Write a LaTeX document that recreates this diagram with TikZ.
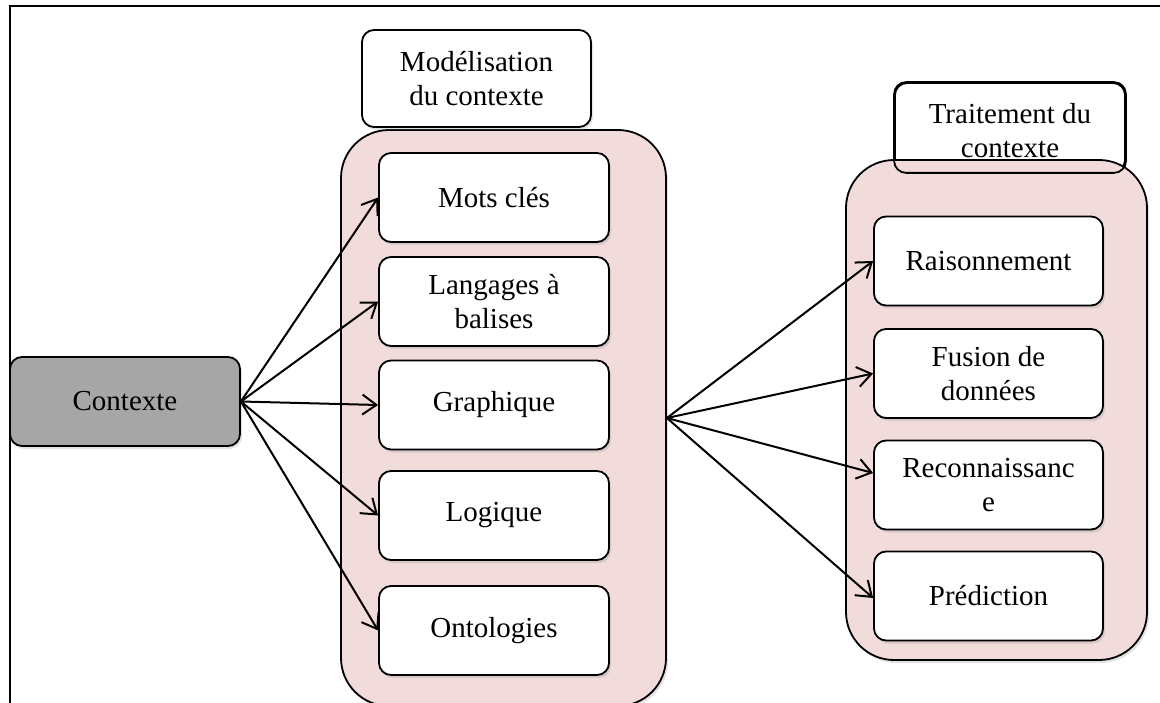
\documentclass[tikz,border=0pt]{standalone}
\usepackage{fontspec}
\setmainfont{Liberation Serif}
\usetikzlibrary{arrows.meta,shadows}
\definecolor{rosepale}{HTML}{F2DCDB}
\definecolor{grisctx}{HTML}{A6A6A6}
\begin{document}
\begin{tikzpicture}
  [x=1pt,y=-1pt,line width=1.8pt,
   every node/.style={font=\fontsize{29}{34}\selectfont,align=center,inner sep=0pt},
   ombre/.style={drop shadow={opacity=0.22,shadow xshift=2pt,shadow yshift=-3pt}},
   boite/.style={draw,fill=white,rounded corners=12pt,minimum width=230pt,minimum height=89pt,ombre},
   groupe/.style={draw,fill=rosepale,rounded corners=48pt,ombre},
   fleche/.style={-{Straight Barb[length=14pt,width=20pt,line width=2pt]},line width=2pt}]
  \useasboundingbox (0,0) rectangle (1160,703);
  \draw[line width=1.6pt] (10,704) -- (10,6) -- (1160,6);

  % groupes
  \node[groupe,minimum width=325pt,minimum height=576pt] (mod) at (503.5,418) {};
  \node[boite,minimum height=97pt,minimum width=229pt,align=none] (tmod) at (476.5,78.5)
    {\raisebox{-9pt}[0pt][0pt]{\begin{tabular}{@{}c@{}}Mod\'elisation\\du contexte\end{tabular}}};
  \node[boite,align=none] (ttrt) at (1010,127.5)
    {\raisebox{-12pt}[0pt][0pt]{\begin{tabular}{@{}c@{}}Traitement du\\contexte\end{tabular}}};
  \node[groupe,minimum width=301pt,minimum height=500pt] (trt) at (996.5,410) {};
  \draw[rounded corners=12pt] (ttrt.south west) rectangle (ttrt.north east);

  % modelisation
  \node[boite] (mots) at (494,197.5) {Mots cl\'es};
  \node[boite] (lang) at (494,301.5) {Langages \`a\\balises};
  \node[boite] (graph) at (494,405) {Graphique};
  \node[boite] (logi) at (494,515.5) {Logique};
  \node[boite] (onto) at (494,630.5) {Ontologies};

  % traitement
  \node[boite,minimum width=229pt] (rais) at (988.5,261) {Raisonnement};
  \node[boite,minimum width=229pt] (fus) at (988.5,373.5) {Fusion de\\donn\'ees};
  \node[boite,minimum width=229pt] (reco) at (988.5,485) {Reconnaissanc\\e};
  \node[boite,minimum width=229pt] (pred) at (988.5,596) {Pr\'ediction};

  \node[boite,fill=grisctx] (ctx) at (125,401.5) {Contexte};

  \foreach \dest in {mots,lang,graph,logi,onto}
    \draw[fleche] (ctx.east) -- (\dest.west);

  \foreach \dest/\dy in {rais/0,fus/0,reco/12,pred/-2}
    \draw[fleche] (mod.east) -- ([yshift=\dy pt]\dest.west);

\end{tikzpicture}
\end{document}
